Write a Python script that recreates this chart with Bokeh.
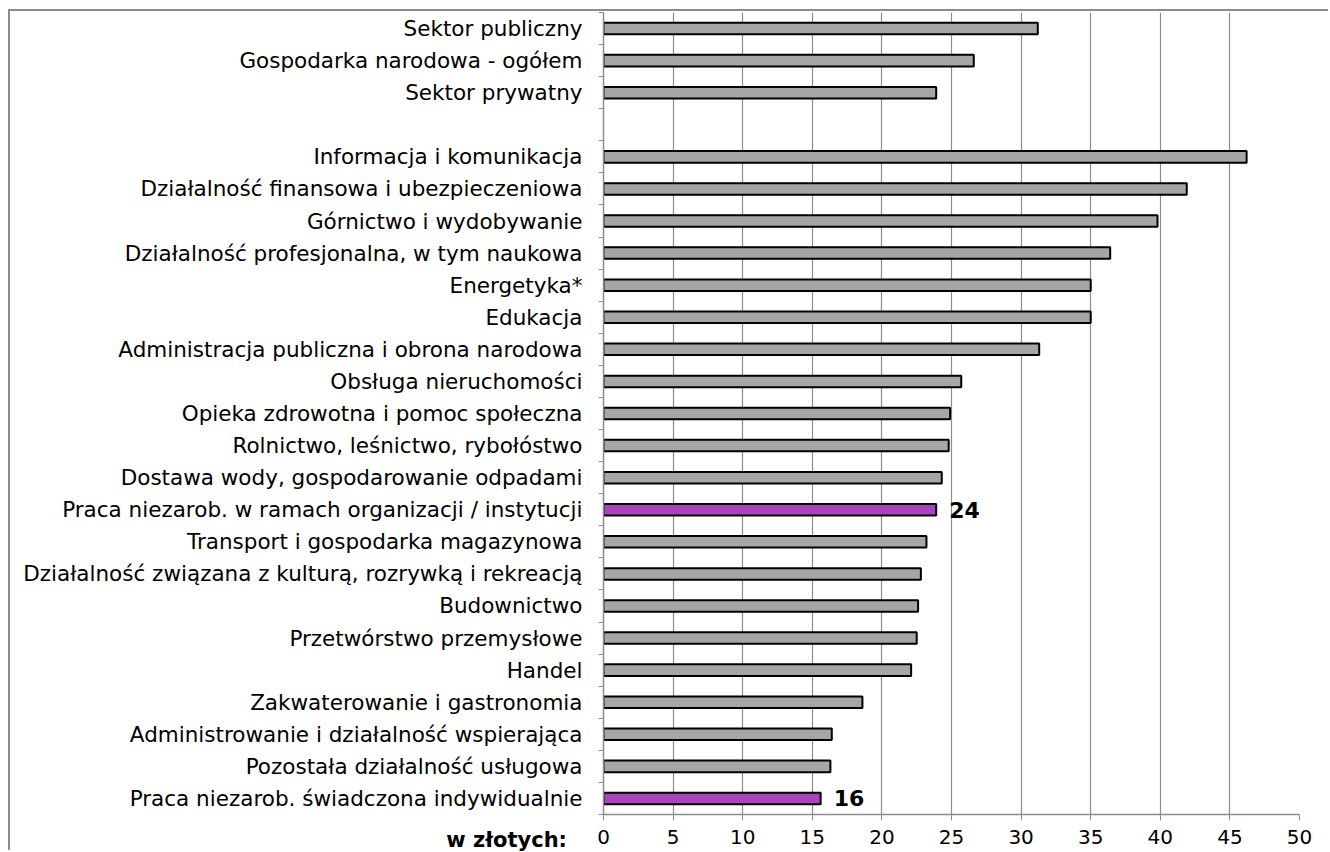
from bokeh.plotting import figure
from bokeh.models import Range1d, FixedTicker, ColumnDataSource, Div
from bokeh.core.properties import value
from bokeh.embed import file_html
from bokeh.resources import INLINE

categories = [
    "Sektor publiczny",
    "Gospodarka narodowa - ogółem",
    "Sektor prywatny",
    "",
    "Informacja i komunikacja",
    "Działalność finansowa i ubezpieczeniowa",
    "Górnictwo i wydobywanie",
    "Działalność profesjonalna, w tym naukowa",
    "Energetyka*",
    "Edukacja",
    "Administracja publiczna i obrona narodowa",
    "Obsługa nieruchomości",
    "Opieka zdrowotna i pomoc społeczna",
    "Rolnictwo, leśnictwo, rybołóstwo",
    "Dostawa wody, gospodarowanie odpadami",
    "Praca niezarob. w ramach organizacji / instytucji",
    "Transport i gospodarka magazynowa",
    "Działalność związana z kulturą, rozrywką i rekreacją",
    "Budownictwo",
    "Przetwórstwo przemysłowe",
    "Handel",
    "Zakwaterowanie i gastronomia",
    "Administrowanie i działalność wspierająca",
    "Pozostała działalność usługowa",
    "Praca niezarob. świadczona indywidualnie",
]
values = [31.2, 26.6, 23.9, None, 46.2, 41.9, 39.8, 36.4, 35.0, 35.0, 31.3,
          25.7, 24.9, 24.8, 24.3, 23.9, 23.2, 22.8, 22.6, 22.5, 22.1, 18.6,
          16.4, 16.3, 15.6]
highlighted = ["Praca niezarob. w ramach organizacji / instytucji",
               "Praca niezarob. świadczona indywidualnie"]
x_ticks = [0, 5, 10, 15, 20, 25, 30, 35, 40, 45, 50]
unit_label = "w złotych:"

FONT = "DejaVu Sans"
GRAY = "#a6a6a6"
PURPLE = "#a845bd"
AXIS = "#8c8c8c"

n = len(categories)
ypos = [n - 1 - i for i in range(n)]

bar_y, bar_v, bar_c = [], [], []
lab_y, lab_v, lab_t = [], [], []
for c, v, y in zip(categories, values, ypos):
    if v is None:
        continue
    bar_y.append(y)
    bar_v.append(v)
    if c in highlighted:
        bar_c.append(PURPLE)
        lab_y.append(y)
        lab_v.append(v)
        lab_t.append(str(int(round(v))))
    else:
        bar_c.append(GRAY)

p = figure(width=1320, height=841, output_backend="svg", toolbar_location=None,
           x_range=Range1d(0, 50), y_range=Range1d(-0.5, n - 0.5),
           min_border_left=593, min_border_right=31, min_border_top=1,
           min_border_bottom=38)
p.styles = {"margin-left": "8px", "margin-top": "9px",
            "border-left": "2px solid #8c8c8c", "border-top": "2px solid #8c8c8c"}
p.outline_line_color = None
p.background_fill_color = "white"
p.border_fill_color = "white"

src = ColumnDataSource(dict(y=bar_y, v=bar_v, c=bar_c))
p.hbar(y="y", left=0, right="v", height=0.36, fill_color="c",
       line_color="black", line_width=2, source=src)

lsrc = ColumnDataSource(dict(y=lab_y, v=lab_v, t=lab_t))
p.text(x="v", y="y", text="t", source=lsrc, x_offset=13,
       text_baseline="middle", text_align="left",
       text_font=value(FONT), text_font_size="22px", text_font_style="bold",
       text_color="black")

# y axis
yax = p.yaxis[0]
yax.ticker = FixedTicker(ticks=ypos, minor_ticks=[y + 0.5 for y in ypos] + [-0.5])
yax.major_label_overrides = {y: c for y, c in zip(ypos, categories)}
yax.major_tick_out = 0
yax.major_tick_in = 0
yax.minor_tick_out = 5
yax.minor_tick_in = 0
yax.minor_tick_line_color = AXIS
yax.axis_line_color = AXIS
yax.axis_line_width = 1.5
yax.major_label_standoff = 16
yax.major_label_text_font = FONT
yax.major_label_text_font_size = "21.5px"
yax.major_label_text_color = "black"

# x axis
xax = p.xaxis[0]
xax.ticker = FixedTicker(ticks=x_ticks)
xax.major_tick_out = 6
xax.major_tick_in = 0
xax.minor_tick_out = 0
xax.minor_tick_in = 0
xax.major_tick_line_color = AXIS
xax.axis_line_color = AXIS
xax.axis_line_width = 1.5
xax.major_label_standoff = 9
xax.major_label_text_font = FONT
xax.major_label_text_font_size = "20px"
xax.major_label_text_color = "black"

p.ygrid.grid_line_color = None
p.xgrid.grid_line_color = AXIS
p.xgrid.grid_line_width = 1.2

unit_div = Div(
    text=('<div style="font-family: \'DejaVu Sans\'; font-size: 21px; '
          'font-weight: bold; color: black; text-align: right; '
          'line-height: 24px; white-space: nowrap;">' + unit_label + '</div>'),
    width=140, height=24,
    styles={"position": "absolute", "left": "422px", "top": "820px",
            "font-family": "DejaVu Sans", "font-size": "21px",
            "font-weight": "bold", "text-align": "right"})

open("out.html", "w").write(file_html([p, unit_div], INLINE))
